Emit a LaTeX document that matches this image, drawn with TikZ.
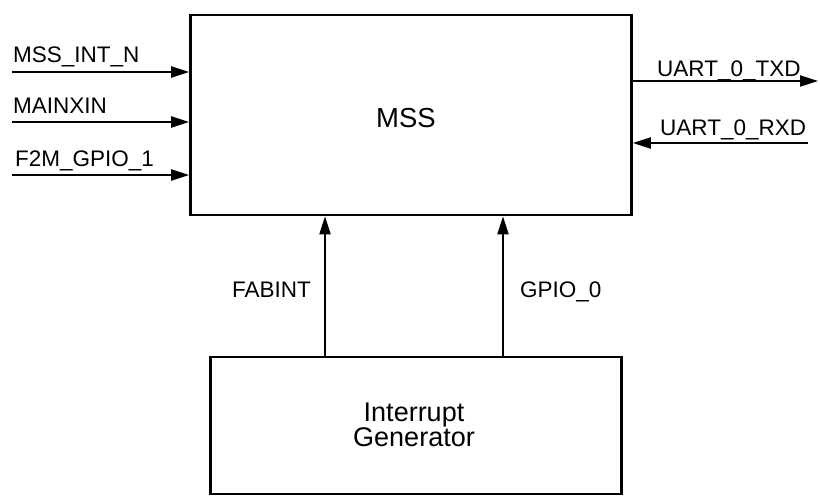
\documentclass[tikz,border=0pt]{standalone}
\usepackage{fontspec}
\setmainfont{Liberation Sans}
\usetikzlibrary{arrows.meta}
\begin{document}
\begin{tikzpicture}[x=1pt,y=1pt,
  blk/.style={draw=black,line width=2.6pt,fill=white,inner sep=0pt,align=center},
  sig/.style={line width=2pt,-{Triangle[length=18pt,width=11pt]}},
  lab/.style={inner sep=0pt,font=\fontsize{22.5}{24}\selectfont}]
\useasboundingbox (0,0) rectangle (820,-500);
\node[blk,minimum width=441pt,minimum height=200pt] (mss) at (411,-115) {};
\node[font=\fontsize{27.5}{28}\selectfont,inner sep=0pt] (msst) at (406,-118) {MSS};
\node[blk,minimum width=411pt,minimum height=137pt] (ig) at (416,-425.5) {};
\node[font=\fontsize{27}{24}\selectfont,align=center,inner sep=0pt] (igt) at (414,-425) {Interrupt\\Generator};
% left inputs
\coordinate (i1) at (12,-72);
\coordinate (i2) at (12,-122);
\coordinate (i3) at (12,-175);
\draw[sig] (i1) -- (i1 -| mss.west);
\draw[sig] (i2) -- (i2 -| mss.west);
\draw[sig] (i3) -- (i3 -| mss.west);
\node[lab,anchor=base west] (l1) at (13,-63) {MSS\_INT\_N};
\node[lab,anchor=base west] (l2) at (13,-114) {MAINXIN};
\node[lab,anchor=base west] (l3) at (15,-167) {F2M\_GPIO\_1};
% right signals
\coordinate (o1) at (818,-81);
\coordinate (o2) at (808,-143);
\draw[sig] (o1 -| mss.east) -- (o1);
\draw[sig] (o2) -- (o2 -| mss.east);
\node[lab,anchor=base west] (l4) at (657,-77) {UART\_0\_TXD};
\node[lab,anchor=base west] (l5) at (660,-136) {UART\_0\_RXD};
% vertical
\coordinate (v1) at (325,0);
\coordinate (v2) at (503,0);
\draw[sig] (v1 |- ig.north) -- (v1 |- mss.south);
\draw[sig] (v2 |- ig.north) -- (v2 |- mss.south);
\node[lab,anchor=base west] (l6) at (232,-297) {FABINT};
\node[lab,anchor=base west] (l7) at (520,-297) {GPIO\_0};
\end{tikzpicture}
\end{document}
